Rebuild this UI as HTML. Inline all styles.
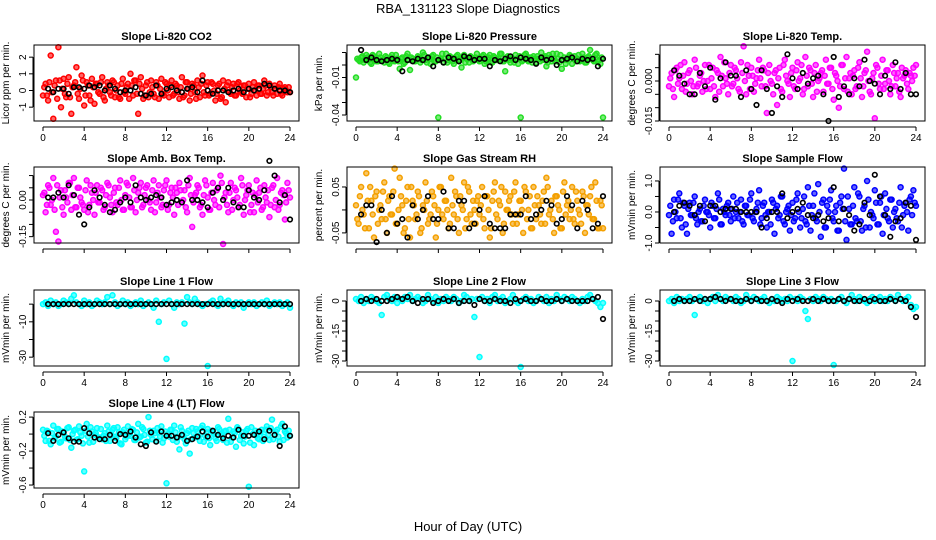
<!DOCTYPE html>
<html>
<head>
<meta charset="utf-8">
<style>
html,body{margin:0;padding:0;background:#fff;}
svg{display:block;font-family:"Liberation Sans",sans-serif;}
.t{font-weight:bold;font-size:11px;}
.tk{font-size:10px;}
</style>
</head>
<body>
<svg id="chart" width="936" height="540" viewBox="0 0 936 540">
<text x="468" y="13" text-anchor="middle" font-size="13">RBA_131123  Slope Diagnostics</text>
<text x="468" y="531" text-anchor="middle" font-size="13">Hour of Day (UTC)</text>
</svg>
<script>
const HOURS=[0,0.25,0.5,0.75,1,1.25,1.5,1.75,2,2.25,2.5,2.75,3,3.25,3.5,3.75,4,4.25,4.5,4.75,5,5.25,5.5,5.75,6,6.25,6.5,6.75,7,7.25,7.5,7.75,8,8.25,8.5,8.75,9,9.25,9.5,9.75,10,10.25,10.5,10.75,11,11.25,11.5,11.75,12,12.25,12.5,12.75,13,13.25,13.5,13.75,14,14.25,14.5,14.75,15,15.25,15.5,15.75,16,16.25,16.5,16.75,17,17.25,17.5,17.75,18,18.25,18.5,18.75,19,19.25,19.5,19.75,20,20.25,20.5,20.75,21,21.25,21.5,21.75,22,22.25,22.5,22.75,23,23.25,23.5,23.75,24];
const HOURS2=[0.125,0.375,0.625,0.875,1.125,1.375,1.625,1.875,2.125,2.375,2.625,2.875,3.125,3.375,3.625,3.875,4.125,4.375,4.625,4.875,5.125,5.375,5.625,5.875,6.125,6.375,6.625,6.875,7.125,7.375,7.625,7.875,8.125,8.375,8.625,8.875,9.125,9.375,9.625,9.875,10.125,10.375,10.625,10.875,11.125,11.375,11.625,11.875,12.125,12.375,12.625,12.875,13.125,13.375,13.625,13.875,14.125,14.375,14.625,14.875,15.125,15.375,15.625,15.875,16.125,16.375,16.625,16.875,17.125,17.375,17.625,17.875,18.125,18.375,18.625,18.875,19.125,19.375,19.625,19.875,20.125,20.375,20.625,20.875,21.125,21.375,21.625,21.875,22.125,22.375,22.625,22.875,23.125,23.375,23.625,23.875];
const HOURS_B=[0.5,1,1.5,2,2.5,3,3.5,4,4.5,5,5.5,6,6.5,7,7.5,8,8.5,9,9.5,10,10.5,11,11.5,12,12.5,13,13.5,14,14.5,15,15.5,16,16.5,17,17.5,18,18.5,19,19.5,20,20.5,21,21.5,22,22.5,23,23.5,24];
const X_TICKS=[0,4,8,12,16,20,24];

const co2All=[-0.3,0.4,-0.6,2.1,-1.7,0.6,2.6,-1.0,0.7,-0.4,0.8,-1.4,
0.3,1.4,-0.5,0.9,-0.9,0.5,-0.3,0.7,-0.8,0.4,-0.2,0.8,
-0.6,0.5,-0.1,0.6,-0.4,0.3,-0.5,0.7,-0.2,0.4,1.0,-0.3,
0.6,-1.4,0.8,-0.5,0.3,-0.4,0.6,-0.2,0.5,-0.5,0.7,-0.3,
0.4,-0.4,0.6,-0.2,0.3,-0.5,0.8,-0.3,0.5,-0.6,0.4,-0.1,
0.6,-0.4,0.9,-0.3,0.5,-0.2,0.4,-0.6,0.3,-0.5,0.6,-0.7,
0.5,-0.2,0.4,-0.3,0.5,-0.1,0.3,-0.4,0.4,-0.2,0.5,-0.3,
0.3,-0.2,0.6,-0.3,0.4,-0.1,0.3,-0.2,0.4,-0.3,0.2,-0.1,-0.1];
const co2All2=[0.2,-0.3,0.5,-0.1,0.3,-0.5,0.6,0.1,-0.2,0.4,-0.4,0.2,
0.5,-0.2,0.1,0.6,-0.3,0.3,-0.6,0.2,0.4,-0.1,0.5,-0.4,
0.1,0.3,-0.3,0.5,0.0,-0.4,0.4,-0.1,0.2,-0.5,0.3,0.6,
-0.2,0.4,0.1,-0.3,0.5,-0.1,0.2,-0.4,0.3,0.1,-0.2,0.5,
0.0,0.3,-0.3,0.4,-0.1,0.2,-0.4,0.5,0.1,-0.2,0.3,-0.5,
0.2,0.4,-0.1,0.3,-0.3,0.5,0.0,-0.2,0.4,-0.4,0.1,0.3,
-0.1,0.2,-0.3,0.4,0.0,-0.2,0.3,0.1,-0.4,0.2,0.0,0.3,
-0.2,0.1,0.3,-0.1,0.2,-0.3,0.1,0.2,-0.2,0.1,0.0,0.2];
const co2Sel=[0.1,-0.1,0.1,0.1,-0.2,0.2,0.2,0.1,0.3,0.2,0.3,0.0,0.3,0.1,-0.1,0.0,0.0,0.2,-0.2,-0.3,-0.2,0.3,-0.2,0.1,0.2,0.0,-0.1,0.1,0.2,-0.1,0.6,0.0,-0.2,0.0,0.0,-0.1,0.0,0.1,-0.1,0.1,0.0,0.1,0.4,0.3,0.1,0.0,0.0,-0.1];
const co2Ticks=[-1,0,1,2];
const co2TickLabels=["-1","0","1","2"];

const presAll=[-10,4,6,2,8,5,1,7,3,9,4,2,
6,1,8,3,5,-3,6,2,9,-4,5,3,
7,2,10,4,6,1,8,3,-42,5,2,9,
4,6,1,7,3,-2,8,5,2,6,4,9,
3,7,1,5,8,2,6,4,9,3,-5,7,
2,5,8,1,-42,4,9,3,6,7,2,5,
10,6,-1,8,3,5,9,2,-3,6,4,8,
1,7,5,3,9,2,6,12,4,8,3,1,-42];
const presAll2=[5,3,7,4,6,2,8,5,3,6,4,7,
2,6,4,8,3,5,1,7,4,6,3,5,
6,4,8,2,5,7,3,6,4,9,5,2,
7,3,5,8,4,6,2,5,7,3,6,4,
5,8,3,6,2,7,4,5,9,3,6,4,
6,2,5,7,3,8,4,6,2,5,7,3,
4,7,2,6,9,3,5,8,4,1,6,7,
5,3,8,4,6,2,7,5,3,9,4,6];
const presSel=[12,4,6,4,3,4,5,4,-5,4,3,5,4,6,-1,4,2,6,5,3,7,6,4,5,5,-1,4,3,5,7,4,6,5,4,1,6,4,5,0,4,5,6,3,5,4,5,-1,5];
const presTicks=[-40,-30,-20,-10,0,10];
const presTickLabels=["-0.04","","","-0.01","",""];

const tempAll=[-2,3,-6,5,1,-3,7,-1,4,-5,8,-2,
2,-4,6,0,-3,5,-6,3,9,-2,1,-5,
6,-1,4,-3,7,13,-5,2,5,-4,1,8,
-2,4,-12,6,-1,3,-9,5,-4,8,0,-6,
5,-3,7,1,-5,9,-2,4,-6,6,0,3,
-4,8,-1,5,-7,2,-10,6,-3,9,1,-5,
4,-2,7,-6,3,11,-4,1,-14,5,-3,8,
-1,4,-5,6,-2,3,-6,1,4,-3,2,5,6];
const tempAll2=[1,-3,4,-1,6,2,-4,3,0,-2,5,-1,
3,0,-3,6,1,-2,4,-4,2,7,-1,3,
-2,5,1,-4,3,0,6,-3,2,-1,4,1,
5,-2,3,0,-5,4,1,-3,6,2,-1,3,
-2,4,0,6,-3,2,5,-1,3,-4,1,4,
2,-1,5,-3,3,0,-2,6,1,-4,3,2,
-3,5,1,-2,4,0,-5,3,6,-1,2,-3,
4,0,-2,3,1,-4,5,2,-1,3,0,2];
const tempSel=[4,2,-1,-5,-5,3,-2,5,-7,1,7,2,2,-6,4,-3,-9,4,-3,-12,-2,-6,10,1,-3,3,-1,1,2,-5,-15,9,-6,-2,-5,1,-2,8,0,-1,-5,2,-3,7,-3,3,-5,-5];
const tempTicks=[-15,-10,-5,0,5,10];
const tempTickLabels=["-0.015","","","0.000","",""];

const boxAll=[2,-5,6,-2,9,-13,-17,4,-6,1,7,-4,
9,-3,5,-1,-4,8,-2,3,-6,6,-1,4,
-3,7,1,-5,5,-2,8,-4,2,6,-3,9,
-5,3,7,-2,5,0,-4,8,-1,6,-3,4,
8,-2,5,-6,3,7,-1,4,-5,9,-11,2,
6,-3,-6,8,1,-4,7,-2,5,10,-18,3,
-5,7,0,4,-3,9,-6,2,6,-2,-5,8,
3,-4,6,-1,-7,5,-3,9,-2,4,-8,7,1];
const boxAll2=[3,-2,5,0,-4,6,1,-3,4,-1,7,2,
-3,5,1,-2,4,-5,6,0,3,-1,5,-4,
2,6,-2,3,-1,5,0,-4,7,1,-3,4,
0,5,-3,2,6,-1,4,-5,3,1,-2,6,
-4,3,1,5,-2,4,0,-3,6,2,-1,3,
5,-2,2,6,-4,3,0,4,-3,7,1,-2,
3,-4,5,1,-2,6,0,4,-5,3,2,-1,
5,-3,1,4,-2,6,0,-4,3,2,-1,4];
const boxSel=[1,1,3,1,6,2,-6,-10,-3,4,1,-2,-5,-4,-1,1,-1,6,1,0,1,2,1,-2,-1,0,-1,8,0,0,-1,-3,3,5,0,5,-1,-3,-3,4,1,0,4,16,10,-1,2,-8];
const boxTicks=[-15,-10,-5,0,5,10];
const boxTickLabels=["-0.15","","","0.00","",""];

const rhAll=[1,-3,5,-1,8,-4,2,-6,4,0,-2,6,
-5,3,-1,9,-3,7,1,-4,5,-6,2,-2,
4,-5,1,6,-3,-1,3,-6,0,5,-2,2,
-4,7,-1,3,-5,1,6,-2,4,-3,0,2,
-1,5,-4,3,-6,2,6,-2,1,-5,4,0,
3,-3,6,-1,2,-5,4,0,-4,5,-2,1,
-3,4,7,-1,2,-5,3,0,-4,6,1,-2,
5,-3,2,-1,4,-5,1,3,-2,6,-4,2,-4];
const rhAll2=[-2,3,0,-4,2,5,-1,3,-3,1,4,-2,
2,-1,4,-3,0,3,-5,2,-2,5,1,-1,
3,-4,0,2,-2,4,1,-3,5,-1,2,0,
-3,1,4,-2,3,0,-4,5,-1,2,-3,3,
1,-2,3,0,-4,4,-1,2,5,-3,0,2,
-1,4,-3,2,0,5,-2,3,-4,1,3,-1,
2,-3,5,0,-2,3,1,-4,4,-1,2,0,
-2,4,0,-3,3,1,-1,5,-2,2,-4,1];
const rhSel=[-1,1,1,-7,0,-5,3,-3,-2,-6,1,-2,0,3,-2,-2,4,-4,-4,2,2,-4,-3,0,3,-3,-4,-4,-4,-1,-1,-1,3,-2,-1,0,2,1,-3,-2,3,1,-4,2,0,-4,-3,3];
const rhTicks=[-5,0,5];
const rhTickLabels=["-0.05","","0.05"];

const sfAll=[-1,-7,4,-2,6,-5,2,-7,3,-1,5,-4,
1,-3,4,0,-5,2,-2,6,-4,1,-1,3,
-3,5,0,-2,4,-4,2,-1,6,-3,1,7,
-2,3,-5,0,4,-7,2,-1,5,-4,1,-6,
3,-2,6,-5,1,-3,8,-6,2,-2,9,-8,
4,-5,0,7,-3,2,-6,5,14,-9,1,-4,
8,-3,5,-6,2,10,-5,-1,7,-4,3,-7,
6,-2,4,-5,1,-3,8,-1,3,-6,5,7,2];
const sfAll2=[2,-3,0,4,-2,3,-4,1,-1,3,-2,0,
-3,2,0,-1,3,-2,1,4,-4,0,2,-1,
1,-2,3,0,-3,2,-1,4,-2,0,3,-4,
2,-1,0,-4,3,1,-2,5,-3,0,2,-1,
-3,4,0,-2,5,-4,2,-1,6,-3,0,3,
-5,2,4,-2,0,-6,3,1,-3,5,-4,2,
-2,6,-3,1,-5,4,0,-2,3,-4,5,-1,
1,-3,4,0,-2,3,-5,2,0,4,-1,3];
const sfSel=[0,2,3,2,-1,2,-3,2,2,0,1,1,1,0,0,0,0,-5,-2,0,0,6,-2,0,1,3,-1,-2,-1,-3,-2,8,-3,1,-1,-6,-4,3,-1,12,5,-1,-8,-3,-2,3,2,-9];
const sfTicks=[-10,-5,0,5,10];
const sfTickLabels=["-1.0","","0.0","","1.0"];

const l1All=[0,1,-1,2,0,1,-1,0,2,1,0,3,
5,1,0,-1,2,0,1,-1,0,2,1,0,
1,4,0,5,1,-1,0,2,0,1,-1,0,
1,0,2,-1,0,1,0,-2,2,-10,0,1,
-31,2,0,-2,1,0,1,-11,4,1,0,3,
1,0,-1,0,-35,1,2,0,-1,3,0,1,
2,0,-1,1,0,1,-2,0,1,0,1,-1,
0,1,0,2,-1,0,1,0,1,-1,0,1,-2];
const l1Sel=[0,0,0,0,0,0,0,0,0,0,0,0,0,0,0,0,0,0,0,0,0,0,0,0,0,0,0,0,0,0,0,0,0,0,0,0,0,0,0,0,0,0,0,0,0,0,0,0];
const l1Ticks=[0,-10,-20,-30];
const l1TickLabels=["","-10","","-30"];

const l2All=[1,0,2,-1,1,0,2,1,0,-1,-7,2,
3,1,0,2,-1,1,0,2,1,3,0,1,
2,1,-1,0,3,1,0,2,-1,1,0,2,
1,0,2,1,-1,0,3,2,0,1,-8,1,
-28,2,0,1,-1,2,3,0,1,2,-1,0,
1,3,0,-1,-33,1,2,0,1,-1,0,2,
1,0,2,-1,1,0,3,1,0,2,1,0,
2,1,0,-1,1,0,2,3,1,0,-1,-3,-1];
const l2Sel=[0,1,0,1,0,0,1,2,1,2,0,-1,1,1,-1,0,1,0,1,-1,0,0,-2,1,0,0,1,0,0,-1,1,0,1,0,0,1,0,0,1,0,1,0,0,0,0,1,2,-9];
const l2Ticks=[0,-5,-10,-15,-20,-25,-30];
const l2TickLabels=["0","","","-15","","","-30"];

const l3All=[0,1,-1,2,0,1,0,1,2,0,-7,1,
2,0,1,-1,1,2,0,3,1,0,2,1,
1,0,2,1,-1,0,3,1,0,2,1,0,
1,2,0,-1,1,0,2,1,0,1,0,2,
-30,1,0,2,1,-5,-9,1,0,2,1,0,
2,1,0,1,-32,0,1,2,0,-1,1,3,
1,0,2,1,0,-1,1,2,0,1,2,0,
1,0,2,1,0,3,1,0,1,2,-2,-4,-3];
const l3Sel=[0,1,0,0,1,0,1,1,2,1,0,1,0,0,1,0,1,0,0,1,0,-1,1,0,1,0,0,1,0,1,0,0,1,0,1,0,0,1,0,1,0,0,1,0,1,0,-3,-8];
const l3Ticks=[0,-5,-10,-15,-20,-25,-30];
const l3TickLabels=["0","","","-15","","","-30"];

const l4All=[5,-8,3,-12,10,-3,6,-9,2,-5,8,-16,
4,-7,9,-2,-44,12,-10,3,-1,7,-4,-6,
1,10,-8,5,-3,8,-11,2,-6,9,-2,5,
-7,12,-3,6,-10,20,-1,4,-8,2,9,-5,
-58,-3,5,10,-9,-18,4,-6,1,-23,7,-4,
3,-8,10,-2,6,-13,2,-5,8,0,-7,4,
18,-9,3,-15,6,-2,-11,4,-62,8,-13,1,
-6,5,-3,9,-7,17,-1,5,-9,12,3,-4,-2];
const l4All2=[-2,4,-8,1,-5,6,-10,3,-3,7,-7,0,
5,-6,2,-11,4,-3,8,-9,1,-4,6,-2,
-8,3,-1,7,-5,2,-12,5,-3,0,6,-7,
2,-4,8,-1,-9,4,-6,1,7,-3,-10,3,
0,5,-7,2,-4,8,-2,-11,4,-6,1,6,
-3,7,-9,2,-5,4,0,-8,6,-2,3,-10,
5,-4,1,8,-7,2,-3,6,-10,0,4,-5,
2,-8,5,-1,7,-6,3,-3,9,-7,1,4];
const l4Sel=[1,-8,-1,2,-5,-9,-9,7,1,-4,-6,-6,-1,-8,0,-1,3,-4,-12,-14,2,-9,3,-2,-2,-4,-1,-8,-6,-3,3,-3,4,-1,-5,-2,-4,5,-2,-2,-1,3,-6,4,-1,-14,9,-2];
const l4Ticks=[20,0,-20,-40,-60];
const l4TickLabels=["0.2","","-0.2","","-0.6"];

const COLS=[34,347,660], ROWS=[45,167,290,412], PW=265, PH=76;
const panels=[
 {name:"co2",title:"Slope Li-820 CO2",ylab:"Licor ppm per min.",c:0,r:0,all:co2All,all2:co2All2,sel:co2Sel,color:"#ff0000",y0:-1.83,y1:2.73,ticks:co2Ticks,labels:co2TickLabels},
 {name:"pressure",title:"Slope Li-820 Pressure",ylab:"kPa per min.",c:1,r:0,all:presAll,all2:presAll2,sel:presSel,color:"#22dd22",y0:-44.8,y1:16,ticks:presTicks,labels:presTickLabels},
 {name:"li820-temp",title:"Slope Li-820 Temp.",ylab:"degrees C per min.",c:2,r:0,all:tempAll,all2:tempAll2,sel:tempSel,color:"#ff00ff",y0:-15,y1:13.5,ticks:tempTicks,labels:tempTickLabels},
 {name:"amb-box-temp",title:"Slope Amb. Box Temp.",ylab:"degrees C per min.",c:0,r:1,all:boxAll,all2:boxAll2,sel:boxSel,color:"#ff00ff",y0:-17.6,y1:13.5,ticks:boxTicks,labels:boxTickLabels},
 {name:"gas-stream-rh",title:"Slope Gas Stream RH",ylab:"percent per min.",c:1,r:1,all:rhAll,all2:rhAll2,sel:rhSel,color:"#f4a000",y0:-7.2,y1:9.35,ticks:rhTicks,labels:rhTickLabels},
 {name:"sample-flow",title:"Slope Sample Flow",ylab:"mVmin per min.",c:2,r:1,all:sfAll,all2:sfAll2,sel:sfSel,color:"#0000ff",y0:-10,y1:14.5,ticks:sfTicks,labels:sfTickLabels},
 {name:"line1-flow",title:"Slope Line 1 Flow",ylab:"mVmin per min.",c:0,r:2,all:l1All,all2:[],sel:l1Sel,color:"#00ffff",y0:-35,y1:8,ticks:l1Ticks,labels:l1TickLabels},
 {name:"line2-flow",title:"Slope Line 2 Flow",ylab:"mVmin per min.",c:1,r:2,all:l2All,all2:[],sel:l2Sel,color:"#00ffff",y0:-32.5,y1:5.5,ticks:l2Ticks,labels:l2TickLabels},
 {name:"line3-flow",title:"Slope Line 3 Flow",ylab:"mVmin per min.",c:2,r:2,all:l3All,all2:[],sel:l3Sel,color:"#00ffff",y0:-32.5,y1:5.5,ticks:l3Ticks,labels:l3TickLabels},
 {name:"line4-flow",title:"Slope Line 4 (LT) Flow",ylab:"mVmin per min.",c:0,r:3,all:l4All,all2:l4All2,sel:l4Sel,color:"#00ffff",y0:-63.5,y1:26,ticks:l4Ticks,labels:l4TickLabels}
];
const NS="http://www.w3.org/2000/svg";
const svg=document.getElementById("chart");
function mk(tag,attrs,parent){const e=document.createElementNS(NS,tag);for(const k in attrs)e.setAttribute(k,attrs[k]);(parent||svg).appendChild(e);return e;}

panels.forEach(p=>{
 const L=COLS[p.c], T=ROWS[p.r], R=L+PW, B=T+PH;
 const xs=h=>L+9+(h/24)*(PW-18);
 const ys=v=>B-(v-p.y0)/(p.y1-p.y0)*PH;
 const g=mk("g",{});
 
 
 const t=mk("text",{x:(L+R)/2,y:T-5,"text-anchor":"middle",class:"t"},g);
 t.textContent=p.title;
 
 
 const pts=mk("g",{"stroke-width":"1.5"},g);
 
 
 p.all.forEach((v,i)=>{
  const c=mk("circle",{cx:xs(HOURS[i]).toFixed(1),cy:ys(v).toFixed(1),r:2.5,stroke:p.color,fill:p.color,"fill-opacity":"0.6"},pts);
  
  
 });
 p.all2.forEach((v,i)=>{
  const c=mk("circle",{cx:xs(HOURS2[i]).toFixed(1),cy:ys(v).toFixed(1),r:2.5,stroke:p.color,fill:p.color,"fill-opacity":"0.6"},pts);
  
  
 });
 const sp=mk("g",{fill:"none","stroke-width":"1.6"},g);
 
 
 p.sel.forEach((v,i)=>{
  const c=mk("circle",{cx:xs(HOURS_B[i]).toFixed(1),cy:ys(v).toFixed(1),r:2.3,stroke:"#000"},sp);
  
  
 });
 const bx=mk("rect",{x:L,y:T,width:PW,height:PH,fill:"none",stroke:"#000","stroke-width":1},g);
 
 
 const xa=mk("g",{stroke:"#000","stroke-width":1},g);
 
 
 mk("line",{x1:xs(0),x2:xs(24),y1:B+6,y2:B+6},xa);
 X_TICKS.forEach(h=>{
  mk("line",{x1:xs(h),x2:xs(h),y1:B+6,y2:B+10},xa);
  if(p.r!==1){
   const tl=mk("text",{x:xs(h),y:B+20,"text-anchor":"middle",class:"tk",stroke:"none"},g);
   tl.textContent=h;
   
   
  }
 });
 const ya=mk("g",{stroke:"#000","stroke-width":1},g);
 
 
 const tv=p.ticks.map(ys);
 mk("line",{x1:L-1,x2:L-1,y1:Math.min(...tv),y2:Math.max(...tv)},ya);
 p.ticks.forEach((v,i)=>{
  const y=ys(v);
  mk("line",{x1:L-5,x2:L-1,y1:y,y2:y},ya);
  if(p.labels[i]){
   const tl=mk("text",{x:L-8,y:y,"text-anchor":"middle",class:"tk",transform:`rotate(-90 ${L-8} ${y})`},g);
   tl.textContent=p.labels[i];
   
   
  }
 });
 const yl=mk("text",{x:L-25,y:T+PH/2,"text-anchor":"middle",class:"tk",transform:`rotate(-90 ${L-25} ${T+PH/2})`},g);
 yl.textContent=p.ylab;
 
 
});
</script>
</body>
</html>
